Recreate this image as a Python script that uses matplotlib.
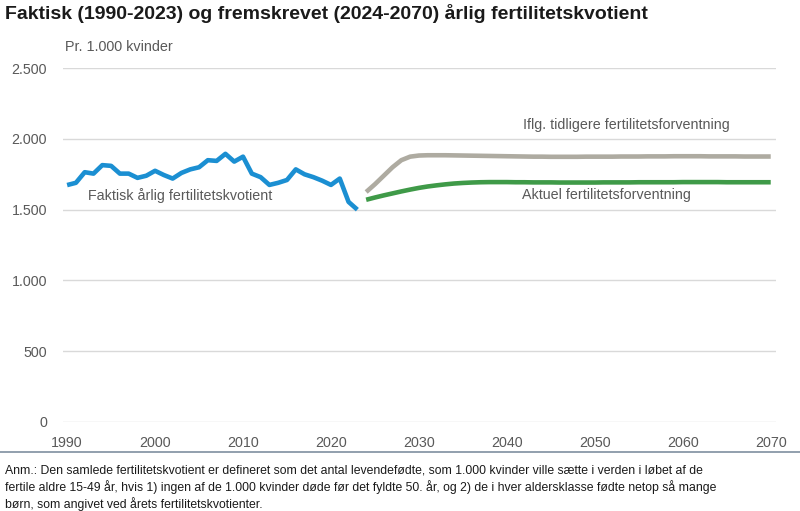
import matplotlib
matplotlib.use("Agg")
import matplotlib.pyplot as plt

plt.rcParams['font.family'] = ['Liberation Sans', 'DejaVu Sans']

# faktisk fertilitetskvotient 1990-2023 (pr. 1.000 kvinder)
years_actual = list(range(1990, 2024))
actual = [1674, 1690, 1765, 1755, 1815, 1810, 1755, 1755, 1725, 1740,
          1775, 1745, 1720, 1760, 1785, 1800, 1850, 1845, 1895, 1840,
          1875, 1755, 1730, 1675, 1690, 1710, 1785, 1750, 1730, 1705,
          1675, 1720, 1555, 1500]

# fremskrivning 2024-2070
years_proj = list(range(2024, 2071))
previous = [1625, 1680, 1740, 1800, 1850, 1875, 1883, 1885, 1885, 1885,
            1884, 1883, 1882, 1881, 1880, 1879, 1878, 1877, 1876, 1875,
            1875, 1874, 1874, 1874, 1874, 1875, 1875, 1875, 1875, 1876,
            1876, 1876, 1877, 1877, 1877, 1878, 1878, 1878, 1878, 1877,
            1877, 1877, 1877, 1876, 1876, 1876, 1876]
current = [1570, 1586, 1601, 1615, 1629, 1642, 1654, 1664, 1672, 1679,
           1685, 1689, 1692, 1694, 1695, 1695, 1695, 1694, 1694, 1693,
           1693, 1693, 1692, 1692, 1692, 1692, 1692, 1693, 1693, 1693,
           1693, 1694, 1694, 1694, 1694, 1694, 1695, 1695, 1695, 1695,
           1695, 1694, 1694, 1694, 1694, 1694, 1694]

text_col = "#595959"

fig = plt.figure(figsize=(8, 5.11), dpi=100)
ax = fig.add_axes([0.0784, 0.1748, 0.8916, 0.6915])

ax.plot(years_actual, actual, color="#1b8fd2", lw=3.3, solid_capstyle="butt")
ax.plot(years_proj, previous, color="#aeaba1", lw=3.3, solid_capstyle="butt")
ax.plot(years_proj, current, color="#3f9a48", lw=3.3, solid_capstyle="butt")

ax.set_xlim(1989.5, 2070.6)
ax.set_ylim(0, 2500)
ax.set_xticks(range(1990, 2071, 10))
ax.set_yticks(range(0, 2501, 500))
ax.set_yticklabels(["0", "500", "1.000", "1.500", "2.000", "2.500"])
ax.grid(axis="y", color="#d9d9d9", lw=1)
ax.set_axisbelow(True)
for s in ax.spines.values():
    s.set_visible(False)
ax.tick_params(axis="both", length=0, labelsize=10.3, labelcolor=text_col)
ax.tick_params(axis="x", pad=10.6)
ax.tick_params(axis="y", pad=11.3)

ax.text(2002.9, 1598, "Faktisk årlig fertilitetskvotient", fontsize=10.25,
        color=text_col, ha="center", va="center")
ax.text(2053.6, 2101, "Iflg. tidligere fertilitetsforventning", fontsize=10.25,
        color=text_col, ha="center", va="center")
ax.text(2051.3, 1605, "Aktuel fertilitetsforventning", fontsize=10.25,
        color=text_col, ha="center", va="center")

fig.text(0.081, 0.909, "Pr. 1.000 kvinder", fontsize=10.4, color=text_col,
         ha="left", va="center")
fig.text(0.006, 0.974, "Faktisk (1990-2023) og fremskrevet (2024-2070) årlig fertilitetskvotient",
         fontsize=14, fontweight="bold", color="#1a1a1a", ha="left", va="center")

fig.add_artist(plt.Line2D([0, 1], [1 - 451.7 / 511] * 2, color="#7f8fa0", lw=1.2))

note = ("Anm.: Den samlede fertilitetskvotient er defineret som det antal levendefødte, som 1.000 kvinder ville sætte i verden i løbet af de\n"
        "fertile aldre 15-49 år, hvis 1) ingen af de 1.000 kvinder døde før det fyldte 50. år, og 2) de i hver aldersklasse fødte netop så mange\n"
        "børn, som angivet ved årets fertilitetskvotienter.")
fig.text(0.006, 1 - 464.5 / 511, note, fontsize=8.85, color="#1a1a1a", ha="left", va="top",
         linespacing=1.3)

fig.savefig("out.png", dpi=100)
